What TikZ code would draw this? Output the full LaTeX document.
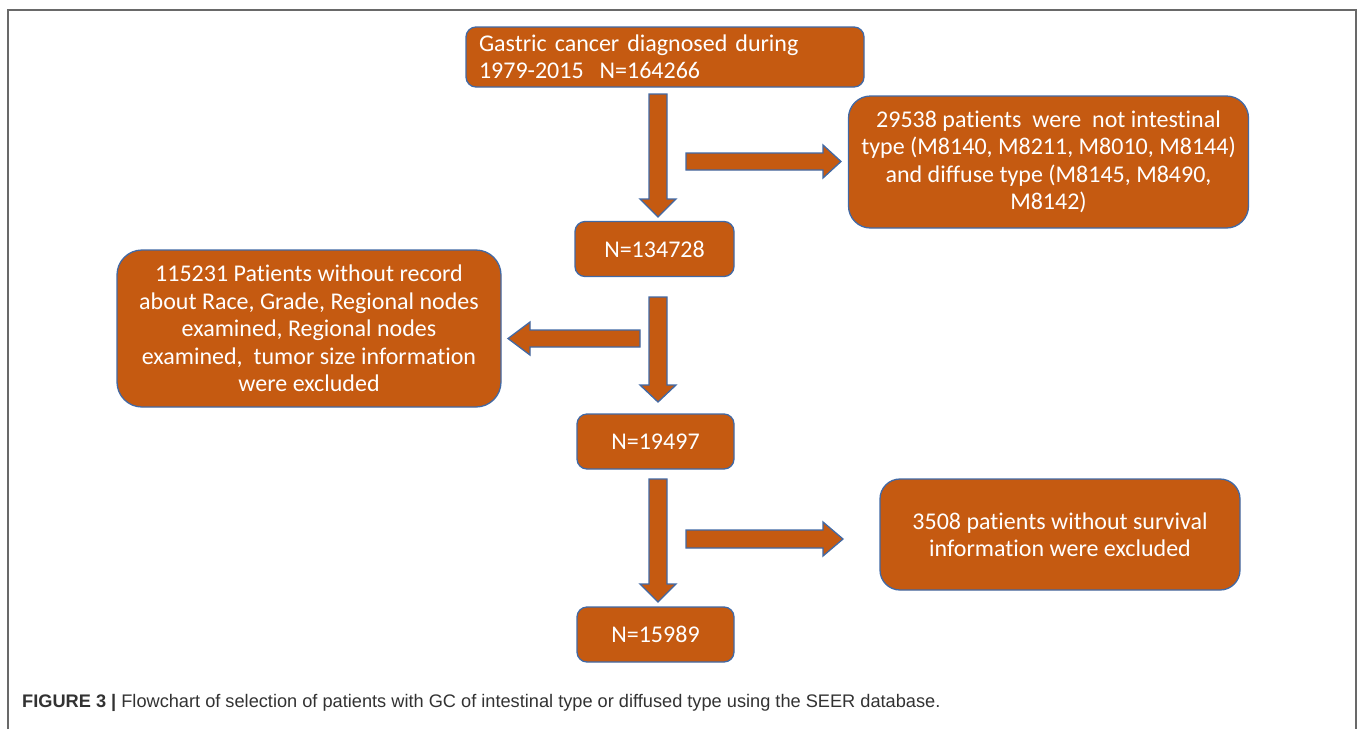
\documentclass[tikz,border=0pt]{standalone}
\usepackage{fontspec}
\setmainfont{Carlito}[Ligatures=CommonOff]
\newfontfamily\capfont{Liberation Sans}
\definecolor{boxfill}{RGB}{197,90,17}
\definecolor{boxline}{RGB}{65,105,165}
\definecolor{framecol}{RGB}{105,105,105}
\definecolor{captext}{RGB}{50,50,50}
\begin{document}
\begin{tikzpicture}[x=1pt,y=-1pt,
  box/.style={draw=boxline, line width=1.3pt, fill=boxfill, text=white,
    font=\fontsize{24}{27.5}\selectfont, align=center, inner sep=0pt},
  blockarrow/.style={draw=boxline, line width=1.3pt, fill=boxfill}]
\useasboundingbox (0,0) rectangle (1358,729);
% frame
\draw[framecol, line width=2pt] (8,729) -- (8,10) -- (1356,10) -- (1356,729);
% boxes
\node[box, rounded corners=10pt, minimum width=398pt, minimum height=60pt,
  text width=372pt, align=left] (start) at (665,57)
  {Gastric cancer diagnosed during\\1979-2015\ \ N=164266};
\node[box, rounded corners=22pt, minimum width=400pt, minimum height=132pt] (ex1) at (1048.5,162)
  {29538 patients\ \ were\ \ not intestinal\\type (M8140, M8211, M8010, M8144)\\and diffuse type (M8145, M8490,\\M8142)};
\node[box, rounded corners=10pt, minimum width=159pt, minimum height=55pt] (n1) at (654.5,249) {N=134728};
\node[box, rounded corners=25pt, minimum width=384pt, minimum height=157pt] (ex2) at (309,328.5)
  {115231 Patients without record\\about Race, Grade, Regional nodes\\examined, Regional nodes\\examined,\ \ tumor size information\\were excluded};
\node[box, rounded corners=10pt, minimum width=157pt, minimum height=55pt] (n2) at (655.5,441.5) {N=19497};
\node[box, rounded corners=20pt, minimum width=360pt, minimum height=111pt] (ex3) at (1060,534.5)
  {3508 patients without survival\\information were excluded};
\node[box, rounded corners=10pt, minimum width=157pt, minimum height=55pt] (n3) at (655.5,634.5) {N=15989};
% block arrows
\draw[blockarrow] (649,94) -- (667,94) -- (667,199) -- (676,199) -- (658,217) -- (640,199) -- (649,199) -- cycle;
\draw[blockarrow] (649,297) -- (667,297) -- (667,385) -- (676,385) -- (658,402) -- (640,385) -- (649,385) -- cycle;
\draw[blockarrow] (649,479) -- (667,479) -- (667,584) -- (676,584) -- (658,602) -- (640,584) -- (649,584) -- cycle;
\draw[blockarrow] (686,153) -- (823,153) -- (823,145) -- (841,161.5) -- (823,178) -- (823,170) -- (686,170) -- cycle;
\draw[blockarrow] (686,530) -- (823,530) -- (823,522) -- (843,539) -- (823,556) -- (823,548) -- (686,548) -- cycle;
\draw[blockarrow] (640,330) -- (530,330) -- (530,322) -- (508,338.5) -- (530,355) -- (530,347) -- (640,347) -- cycle;
% caption
\node[anchor=base west, inner sep=0pt, text=captext, font=\capfont\fontsize{18.2}{22}\selectfont] (cap) at (22,707)
  {\textbf{FIGURE 3 |} Flowchart of selection of patients with GC of intestinal type or diffused type using the SEER database.};
\end{tikzpicture}
\end{document}
